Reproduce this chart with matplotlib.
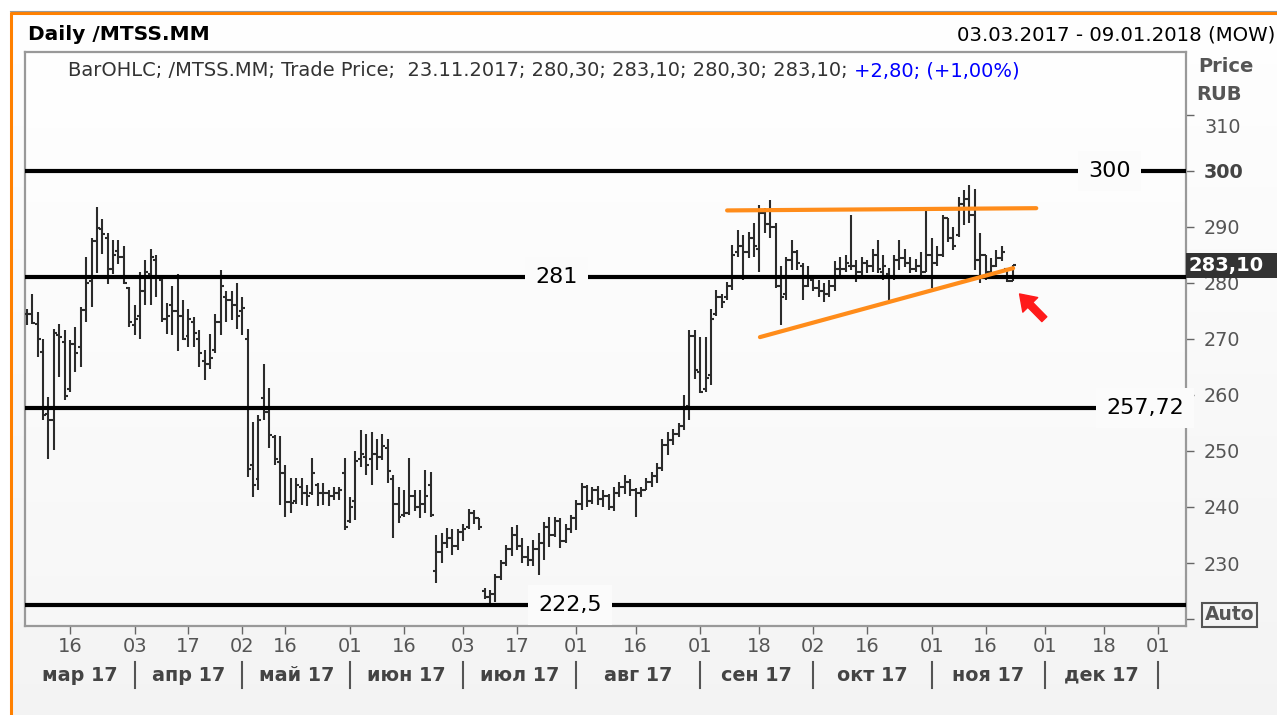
import numpy as np
import pandas as pd
import matplotlib
matplotlib.use('Agg')
import matplotlib.pyplot as plt
from matplotlib import patches, transforms

# daily OHLC, 03.03.2017 .. 23.11.2017 (MOEX trading days)
opens = [274.5, 274.5, 272.7, 267.6, 256.5, 255.5, 270.6, 269.5, 261.0, 269.0,
         268.5, 275.2, 280.3, 287.5, 289.5, 288.0, 282.5, 285.7, 284.6, 279.0,
         272.5, 274.0, 278.5, 281.5, 284.0, 280.5, 273.5, 276.0, 275.0, 274.0,
         270.5, 273.0, 270.0, 266.0, 265.5, 268.0, 273.0, 277.5, 277.0, 276.0,
         275.0, 270.0, 247.5, 245.0, 259.4, 257.0, 252.5, 248.0, 246.0, 240.9,
         241.0, 243.5, 242.5, 242.5, 244.0, 242.5, 242.5, 242.0, 242.5, 246.0,
         237.5, 241.0, 248.5, 249.0, 248.5, 249.5, 249.0, 250.5, 245.0, 240.5,
         238.5, 239.0, 242.0, 240.0, 240.5, 244.0, 228.5, 232.0, 233.5, 234.5,
         233.0, 235.5, 236.5, 239.0, 238.0, 225.0, 224.0, 224.5, 227.5, 230.0,
         232.5, 235.0, 233.0, 231.0, 230.5, 232.5, 233.5, 236.5, 235.0, 237.5,
         234.0, 236.0, 238.0, 240.5, 243.5, 241.0, 243.0, 241.5, 242.0, 240.0,
         242.5, 243.5, 244.5, 243.0, 242.5, 243.0, 244.5, 245.5, 247.0, 251.0,
         252.0, 253.0, 254.5, 258.0, 270.5, 264.0, 261.0, 263.5, 274.5, 277.5,
         277.5, 279.5, 285.5, 286.5, 285.5, 288.0, 286.0, 292.5, 290.5, 290.0,
         279.5, 278.0, 284.0, 285.5, 283.0, 279.5, 280.5, 279.0, 278.5, 278.0,
         279.5, 282.5, 282.5, 283.0, 283.0, 282.0, 283.5, 283.0, 285.0, 282.0,
         281.5, 281.0, 284.0, 284.5, 283.5, 282.5, 283.0, 282.0, 285.0, 283.5,
         285.0, 291.5, 288.0, 288.5, 294.0, 295.0, 292.0, 284.0, 285.0, 282.0,
         283.0, 284.5, 282.5, 280.3]
highs = [275.4, 278.0, 274.8, 270.0, 259.6, 271.8, 272.7, 271.5, 269.7, 272.1,
         275.7, 284.6, 287.9, 293.6, 291.3, 288.8, 287.6, 287.6, 286.5, 279.2,
         276.0, 281.9, 284.0, 286.1, 284.9, 280.7, 276.3, 279.5, 281.6, 276.9,
         275.4, 273.9, 271.5, 268.0, 270.9, 274.5, 282.2, 278.6, 278.6, 280.0,
         277.5, 271.8, 255.2, 256.4, 265.5, 261.2, 252.8, 252.7, 247.5, 245.1,
         245.1, 245.1, 243.9, 248.7, 244.2, 244.2, 243.0, 243.6, 243.6, 248.7,
         241.8, 249.9, 253.7, 253.1, 253.4, 252.2, 253.1, 252.2, 245.7, 243.6,
         243.0, 248.7, 243.0, 243.0, 246.6, 246.3, 235.0, 235.3, 236.2, 236.0,
         236.0, 237.0, 239.6, 239.5, 238.0, 225.5, 225.2, 228.1, 230.5, 233.2,
         236.5, 236.8, 234.5, 233.0, 234.1, 235.3, 237.4, 238.3, 238.3, 238.0,
         237.0, 238.6, 241.2, 244.2, 244.0, 243.6, 243.8, 243.0, 242.3, 243.5,
         244.5, 245.7, 245.0, 243.3, 243.6, 245.1, 246.3, 247.8, 252.2, 253.4,
         254.0, 255.0, 260.0, 271.6, 271.6, 270.4, 270.4, 275.4, 278.7, 278.0,
         280.2, 286.7, 289.4, 288.5, 289.0, 290.6, 293.9, 293.3, 294.8, 290.6,
         283.0, 284.6, 287.6, 285.8, 283.5, 282.9, 281.1, 280.5, 279.9, 280.5,
         283.8, 284.6, 285.0, 292.1, 284.0, 284.6, 284.0, 286.1, 287.6, 285.0,
         282.6, 285.0, 287.6, 286.0, 284.6, 284.3, 285.5, 293.0, 287.9, 286.5,
         292.1, 291.5, 290.0, 295.3, 296.5, 297.4, 296.8, 288.8, 285.0, 284.5,
         285.8, 286.5, 282.5, 283.1]
lows = [272.4, 272.7, 266.8, 255.5, 248.6, 250.1, 263.2, 259.0, 260.5, 264.1,
        265.0, 273.0, 275.7, 281.7, 285.2, 279.7, 281.6, 283.4, 279.7, 272.1,
        270.6, 270.0, 276.0, 276.0, 277.5, 273.0, 270.9, 270.6, 267.9, 269.7,
        268.5, 268.5, 265.0, 262.6, 264.7, 267.5, 270.6, 273.0, 273.3, 271.8,
        270.6, 245.3, 241.8, 243.0, 255.5, 250.5, 247.5, 240.4, 238.3, 238.9,
        240.5, 240.4, 240.1, 242.1, 240.1, 240.4, 240.1, 241.2, 241.2, 235.9,
        237.1, 237.7, 247.2, 245.7, 243.9, 246.6, 248.4, 244.2, 234.4, 237.1,
        238.3, 238.6, 239.2, 238.0, 238.9, 238.3, 226.4, 230.0, 232.6, 231.5,
        232.3, 234.0, 236.0, 237.0, 235.9, 223.5, 222.5, 223.1, 227.0, 229.5,
        231.2, 232.3, 230.0, 229.4, 229.4, 227.9, 230.5, 232.9, 234.7, 232.6,
        233.5, 235.3, 235.9, 239.5, 240.0, 240.6, 240.3, 240.0, 239.5, 239.3,
        241.8, 242.4, 242.0, 238.3, 241.8, 243.0, 243.6, 244.2, 246.5, 249.3,
        251.0, 252.5, 253.7, 255.5, 262.9, 260.3, 260.5, 261.7, 274.0, 275.5,
        277.0, 278.7, 284.6, 280.5, 284.5, 284.6, 282.0, 288.8, 287.9, 279.0,
        272.4, 277.0, 282.3, 282.3, 276.9, 279.2, 278.6, 277.5, 276.6, 277.5,
        278.6, 281.1, 282.0, 282.3, 280.2, 280.8, 281.7, 282.0, 281.7, 280.5,
        276.9, 280.5, 282.3, 282.8, 281.8, 282.0, 281.1, 282.0, 279.0, 283.0,
        284.6, 287.3, 285.8, 288.2, 290.3, 290.6, 282.3, 279.9, 280.5, 282.0,
        282.8, 283.8, 280.2, 280.3]
closes = [274.5, 272.9, 270.0, 256.4, 255.6, 271.0, 270.3, 259.8, 269.0, 267.5,
          275.2, 280.0, 287.4, 289.8, 288.7, 282.5, 285.0, 284.6, 280.0, 273.0,
          273.5, 278.5, 282.0, 284.6, 281.0, 273.5, 274.0, 275.0, 274.0, 270.0,
          273.5, 271.0, 267.5, 265.5, 266.5, 273.0, 279.5, 277.0, 276.0, 274.0,
          275.5, 246.8, 244.0, 255.5, 257.0, 252.8, 248.5, 246.0, 240.9, 240.7,
          243.9, 242.5, 242.0, 246.0, 242.5, 242.5, 242.0, 242.5, 243.0, 236.5,
          240.0, 248.2, 249.5, 247.5, 249.5, 249.0, 250.8, 246.5, 240.5, 238.2,
          239.0, 242.0, 240.0, 240.5, 242.0, 238.6, 232.0, 233.5, 234.5, 233.0,
          235.5, 236.0, 239.0, 238.0, 236.5, 224.0, 224.5, 227.5, 230.0, 232.5,
          235.0, 233.0, 231.0, 230.5, 232.5, 233.5, 236.5, 235.0, 237.5, 234.0,
          236.0, 238.0, 240.5, 243.5, 241.0, 243.0, 241.5, 242.0, 240.0, 242.5,
          243.5, 244.5, 243.0, 242.5, 243.0, 244.5, 245.5, 247.0, 251.0, 252.0,
          253.0, 254.5, 257.5, 270.5, 264.5, 260.6, 263.0, 273.5, 277.5, 276.5,
          279.5, 285.0, 286.5, 285.5, 288.0, 286.5, 292.5, 290.5, 290.0, 279.5,
          277.5, 284.0, 285.5, 283.5, 279.5, 281.0, 279.0, 278.5, 278.0, 279.5,
          282.5, 282.5, 283.5, 283.0, 282.0, 283.5, 283.0, 285.0, 282.5, 283.0,
          281.0, 284.0, 284.5, 283.5, 282.5, 283.0, 282.0, 285.0, 283.5, 285.0,
          291.5, 288.0, 286.5, 294.0, 295.0, 292.0, 284.0, 285.0, 282.0, 283.0,
          284.5, 285.5, 280.3, 283.1]

holidays = ['2017-03-08', '2017-05-01', '2017-05-08', '2017-05-09',
            '2017-06-12', '2017-11-06']
tick_dates = ['2017-03-16', '2017-04-03', '2017-04-17', '2017-05-02', '2017-05-16',
              '2017-06-01', '2017-06-16', '2017-07-03', '2017-07-17', '2017-08-01',
              '2017-08-16', '2017-09-01', '2017-09-18', '2017-10-02', '2017-10-16',
              '2017-11-01', '2017-11-16', '2017-12-01', '2017-12-18', '2018-01-01']
month_starts = ['2017-04-03', '2017-05-02', '2017-06-01', '2017-07-03', '2017-08-01',
                '2017-09-01', '2017-10-02', '2017-11-01', '2017-12-01', '2018-01-01']
month_names = ['мар 17', 'апр 17', 'май 17', 'июн 17', 'июл 17',
               'авг 17', 'сен 17', 'окт 17', 'ноя 17', 'дек 17']

levels = [300, 281, 257.72, 222.5]
level_labels = ['300', '281', '257,72', '222,5']
level_label_x = [201.0, 98.3, 207.6, 100.8]

price_ticks = [310, 300, 290, 280, 270, 260, 250, 240, 230]
last_price = 283.10

# trend lines drawn on the chart (bar index, price)
top_line_x, top_line_y = [130.0, 187.4], [292.9, 293.3]
low_line_x, low_line_y = [136.1, 183.1], [270.3, 282.6]

plt.rcParams['font.family'] = 'DejaVu Sans'

W, H = 1277, 715
fig = plt.figure(figsize=(W / 100, H / 100), dpi=100)

# background canvas in pixel coordinates
bg = fig.add_axes([0, 0, 1, 1], zorder=-5)
bg.set_xlim(0, W)
bg.set_ylim(H, 0)
bg.axis('off')
grad = np.linspace(1.0, 0.955, 256).reshape(-1, 1)
bg.imshow(np.dstack([grad, grad, grad]), extent=[0, W, H, 0], aspect='auto')
bg.add_patch(patches.Rectangle((0, 0), W, 12, color='white', lw=0))
bg.add_patch(patches.Rectangle((0, 0), 10, H, color='white', lw=0))
bg.plot([10, W], [12.5, 12.5], color='#ff8000', lw=2.2, solid_capstyle='butt')
bg.plot([11, 11], [12, H], color='#ff8000', lw=2.2, solid_capstyle='butt')
bg.plot([10, W], [11, 11], color='#999999', lw=0.8)

# main price panel
ax = fig.add_axes([25 / W, 1 - 626 / H, 1161 / W, 574 / H])
ax.set_facecolor('white')
pgrad = np.linspace(1.0, 0.97, 256).reshape(-1, 1)
ax.imshow(np.dstack([pgrad, pgrad, pgrad]), extent=[0, 1, 0, 1],
          transform=ax.transAxes, aspect='auto', zorder=0)

days = pd.bdate_range('2017-03-03', '2018-01-09', freq='C', holidays=holidays)
idx = np.arange(len(closes))
o = np.clip(opens, lows, highs)
c = np.clip(closes, lows, highs)

bar_col = '#2b2b2b'
ax.vlines(idx, lows, highs, color=bar_col, lw=1.5, zorder=3)
ax.hlines(o, idx - 0.55, idx, color=bar_col, lw=1.5, zorder=3)
ax.hlines(c, idx, idx + 0.55, color=bar_col, lw=1.5, zorder=3)

ax.set_xlim(-0.35, 215.2)
ax.set_ylim(218.77, 321.16)

bg_col = '#fbfbfb'
for lv, lab, lx in zip(levels, level_labels, level_label_x):
    ax.axhline(lv, color='black', lw=3, zorder=4)
    ax.text(lx, lv, lab, fontsize=16, color='black', ha='center', va='center', zorder=5,
            bbox=dict(boxstyle='square,pad=0.45', facecolor=bg_col, edgecolor='none'))

ax.plot(top_line_x, top_line_y, color='#ff8c1a', lw=3, solid_capstyle='round', zorder=6)
ax.plot(low_line_x, low_line_y, color='#ff8c1a', lw=3, solid_capstyle='round', zorder=6)

ax.annotate('', xy=(184.3, 278.0), xytext=(188.9, 273.5),
            arrowprops=dict(facecolor='#ff1a1a', edgecolor='#ff1a1a', width=5,
                            headwidth=15, headlength=11), zorder=7)

for sp in ax.spines.values():
    sp.set_color('#999999')
    sp.set_linewidth(1.6)

# right price axis
ax.yaxis.tick_right()
ax.set_yticks(price_ticks + [220])
ax.tick_params(axis='y', length=6, width=1, color='#666666', labelright=False, direction='out')
for p in price_ticks:
    bold = p == 300
    dy = -13 if p == 310 else -2
    ax.annotate(str(p), xy=(1, p), xycoords=('axes fraction', 'data'),
                xytext=(18, dy), textcoords='offset pixels', ha='left', va='center',
                fontsize=13.8, color='#444444' if bold else '#555555',
                fontweight='bold' if bold else 'normal', annotation_clip=False)

blend_y = transforms.blended_transform_factory(ax.transAxes, ax.transData)
ax.add_patch(patches.Rectangle((1.0, last_price - 2.25), 0.2, 4.5, transform=blend_y,
                               facecolor='#333333', edgecolor='none', clip_on=False, zorder=8))
ax.annotate('283,10', xy=(1, last_price), xycoords=('axes fraction', 'data'),
            xytext=(3, 0), textcoords='offset pixels', ha='left', va='center',
            fontsize=14, color='white', fontweight='bold', annotation_clip=False, zorder=9)

fig.text(1226 / W, 1 - 67 / H, 'Price', ha='center', va='center', fontsize=14,
         fontweight='bold', color='#555555')
fig.text(1219 / W, 1 - 95 / H, 'RUB', ha='center', va='center', fontsize=14,
         fontweight='bold', color='#555555')
bg.add_patch(patches.Rectangle((1202, 603), 55, 24, facecolor='none',
                               edgecolor='#555555', lw=1.5))
bg.text(1229.5, 615, 'Auto', ha='center', va='center', fontsize=13.5,
        fontweight='bold', color='#555555')

# bottom date axis
tick_idx = [days.get_loc(pd.Timestamp(d)) for d in tick_dates]
ax.set_xticks(tick_idx)
ax.set_xticklabels([pd.Timestamp(d).strftime('%d') for d in tick_dates])
ax.tick_params(axis='x', length=6, width=1, color='#666666', labelsize=14,
               labelcolor='#555555', pad=2)

blend_x = transforms.blended_transform_factory(ax.transData, ax.transAxes)
sep_idx = [days.get_loc(pd.Timestamp(d)) for d in month_starts]
for s in sep_idx:
    ax.plot([s, s], [-0.0627, -0.108], transform=blend_x, color='#555555', lw=1.5,
            clip_on=False)
bounds = [-0.35] + sep_idx
for k, name in enumerate(month_names):
    ax.text((bounds[k] + bounds[k + 1]) / 2, -0.0854, name, transform=blend_x,
            ha='center', va='center', fontsize=13.8, fontweight='bold', color='#444444')

# header
fig.text(28 / W, 1 - 35 / H, 'Daily /MTSS.MM', ha='left', va='center', fontsize=14.5,
         fontweight='bold', color='black')
fig.text(1275 / W, 1 - 35 / H, '03.03.2017 - 09.01.2018 (MOW)', ha='right', va='center',
         fontsize=14.2, color='black')
t1 = ax.text(0.037, 0.967, 'BarOHLC; /MTSS.MM; Trade Price;  23.11.2017; 280,30; 283,10; '
             '280,30; 283,10; ', transform=ax.transAxes, ha='left', va='center',
             fontsize=14, color='#333333')
ax.annotate('+2,80; (+1,00%)', xycoords=t1, xy=(1, 0.5), va='center', ha='left',
            fontsize=14, color='#0000ff')

fig.savefig('out.png', dpi=100)
